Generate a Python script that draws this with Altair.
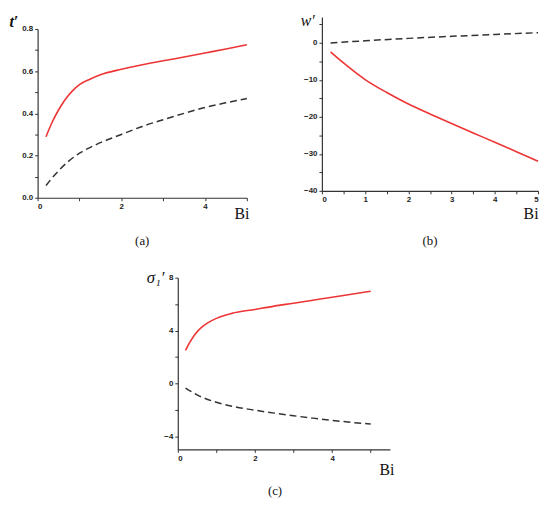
import altair as alt
import pandas as pd

# ---- data ----
a_red_bi = [0.2, 0.35, 0.5, 0.6, 0.7, 0.85, 1.0, 1.25, 1.5, 2.0, 2.5, 3.0, 3.5, 4.0, 4.5, 5.0]
a_red_t = [0.289, 0.359, 0.416, 0.448, 0.476, 0.51, 0.536, 0.562, 0.583, 0.609, 0.630, 0.649, 0.667, 0.686, 0.705, 0.725]
a_dash_bi = [0.2, 0.5, 0.75, 1.0, 1.4, 2.0, 2.5, 3.0, 3.5, 4.0, 4.5, 5.0]
a_dash_t = [0.058, 0.128, 0.175, 0.211, 0.252, 0.30, 0.338, 0.37, 0.40, 0.428, 0.45, 0.47]

b_red_bi = [0.2, 0.5, 1.0, 1.5, 2.0, 2.5, 3.0, 3.5, 4.0, 4.5, 5.0]
b_red_w = [-2.4, -5.4, -9.9, -13.4, -16.5, -19.2, -21.8, -24.35, -26.85, -29.4, -32.0]
b_dash_bi = [0.2, 1.0, 2.0, 3.0, 4.0, 5.0]
b_dash_w = [0.0, 0.6, 1.25, 1.8, 2.3, 2.8]

c_red_bi = [0.2, 0.3, 0.43, 0.6, 0.8, 1.0, 1.4, 2.0, 2.5, 3.0, 3.5, 4.0, 4.5, 5.0]
c_red_s = [2.5, 3.05, 3.65, 4.2, 4.62, 4.92, 5.3, 5.6, 5.85, 6.07, 6.3, 6.52, 6.75, 6.97]
c_dash_bi = [0.2, 0.5, 1.0, 1.5, 2.0, 2.5, 3.0, 3.5, 4.0, 4.5, 5.0]
c_dash_s = [-0.35, -0.87, -1.43, -1.78, -2.03, -2.25, -2.45, -2.63, -2.8, -2.95, -3.08]

a_xticks = [0, 2, 4]
a_xminor = [1, 3, 5]
a_yticks = [0.0, 0.2, 0.4, 0.6, 0.8]
a_yminor = [0.1, 0.3, 0.5, 0.7]
b_xticks = [0, 1, 2, 3, 4, 5]
b_xminor = [0.5, 1.5, 2.5, 3.5, 4.5]
b_yticks = [-40, -30, -20, -10, 0]
b_yminor = [-35, -25, -15, -5, 5]
c_xticks = [0, 2, 4]
c_xminor = [1, 3, 5]
c_yticks = [-4, 0, 4, 8]
c_yminor = [-2, 2, 6]

RED = "#ee3535"
DARK = "#333333"
LABEL_FONT = "Liberation Sans"
SERIF = "Liberation Serif"


def axis_common(values, fmt, title="", **kw):
    return alt.Axis(
        values=values, format=fmt, title=title, grid=False,
        labelFont=LABEL_FONT, labelFontSize=8, labelFontWeight="bold", labelColor="#222222",
        tickSize=3, tickColor=DARK, domainColor=DARK, domainWidth=1.2, tickWidth=1,
        labelPadding=2, **kw
    )


def panel(red_x, red_y, dash_x, dash_y, xdom, ydom, w, h, xrange, yrange,
          xt, xm, yt, ym, yfmt, ytitle, ytx, yty, ytsize, ytweight,
          xtx, xty, label, label_offset, yoffset=0, label_dx=0):
    red = pd.DataFrame({"Bi": red_x, "v": red_y})
    dash = pd.DataFrame({"Bi": dash_x, "v": dash_y})
    xs = alt.Scale(domain=xdom, nice=False, zero=False, range=xrange)
    ys = alt.Scale(domain=ydom, nice=False, zero=False, range=yrange)
    x_axis = axis_common(xt, "d", "Bi", orient="bottom", titleFont=SERIF, titleFontSize=16,
                         titleFontWeight="normal", titleColor="#111111", titleAnchor="end",
                         titleAlign="right", titleBaseline="alphabetic", titleX=xtx, titleY=xty)
    y_axis = axis_common(yt, yfmt, ytitle, orient="left", offset=yoffset, titleFont=SERIF,
                         titleFontSize=ytsize, titleFontWeight=ytweight, titleFontStyle="italic",
                         titleColor="#111111", titleAngle=0, titleAlign="left",
                         titleBaseline="alphabetic", titleX=ytx, titleY=yty)
    xm_axis = alt.Axis(orient="bottom", values=xm, labels=False, title=None, grid=False,
                       domain=False, tickSize=3, tickColor=DARK, tickWidth=1)
    ym_axis = alt.Axis(orient="left", offset=yoffset, values=ym, labels=False, title=None,
                       grid=False, domain=False, tickSize=3, tickColor=DARK, tickWidth=1)
    l_red = alt.Chart(red).mark_line(color=RED, strokeWidth=1.6, interpolate="monotone").encode(
        x=alt.X("Bi:Q", scale=xs, axis=x_axis),
        y=alt.Y("v:Q", scale=ys, axis=y_axis),
    )
    l_dash = alt.Chart(dash).mark_line(color=DARK, strokeWidth=1.5, strokeDash=[7, 4],
                                        interpolate="monotone").encode(
        x=alt.X("Bi:Q", scale=xs, axis=xm_axis),
        y=alt.Y("v:Q", scale=ys, axis=ym_axis),
    )
    return alt.layer(l_red, l_dash).resolve_axis(x="independent", y="independent").properties(
        width=w, height=h,
        title=alt.TitleParams(label, orient="bottom", font=SERIF, fontSize=13, fontWeight="normal",
                              color="#111111", offset=label_offset, dx=label_dx),
    )


pa = panel(a_red_bi, a_red_t, a_dash_bi, a_dash_t, [0, 5], [0, 0.8], 212, 183, [0, 212], [183, 12],
           a_xticks, a_xminor, a_yticks, a_yminor, ".1f", "t\u2032", -29, 10, 16, "bold",
           214, 21, "(a)", 14)
pb = panel(b_red_bi, b_red_w, b_dash_bi, b_dash_w, [0, 5], [-40, 7], 219, 176, [0, 219], [176, 0],
           b_xticks, b_xminor, b_yticks, b_yminor, "d", "w\u2032", -22, 8, 16, "normal",
           219, 28, "(b)", 14)
pc = panel(c_red_bi, c_red_s, c_dash_bi, c_dash_s, [0, 5.5], [-5, 8], 357, 174, [142, 357], [174, 0],
           c_xticks, c_xminor, c_yticks, c_yminor, "d", "\u03c3\u2081\u2032", -32, 5, 17, "normal",
           361, 25, "(c)", 8, yoffset=-142, label_dx=62)

row1 = alt.hconcat(pa, pb, spacing=76, bounds="flush")

chart = alt.vconcat(row1, pc, spacing=19).properties(
    padding={"left": 0, "top": 0, "right": 0, "bottom": 0}
).configure_view(stroke="transparent")

chart.save("out.html", embed_options={"renderer": "svg", "actions": False})
